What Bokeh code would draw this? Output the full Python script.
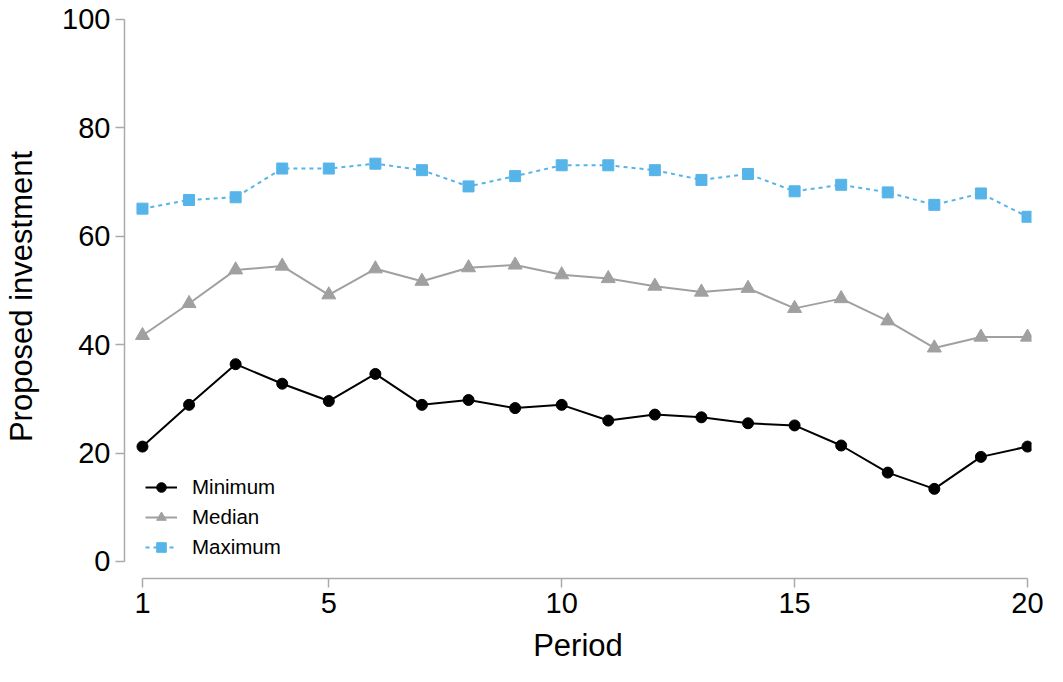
from bokeh.plotting import figure
from bokeh.models import Range1d, FixedTicker, Legend, LegendItem
from bokeh.embed import file_html
from bokeh.resources import INLINE

periods = list(range(1, 21))
minimum = [21.2, 28.9, 36.4, 32.8, 29.6, 34.6, 28.9, 29.8, 28.3, 28.9,
           26.0, 27.1, 26.6, 25.5, 25.1, 21.4, 16.4, 13.4, 19.3, 21.2]
median = [41.7, 47.6, 53.8, 54.5, 49.2, 54.0, 51.7, 54.2, 54.7, 52.9,
          52.2, 50.8, 49.7, 50.4, 46.7, 48.5, 44.4, 39.4, 41.4, 41.4]
maximum = [65.1, 66.7, 67.2, 72.5, 72.5, 73.4, 72.2, 69.2, 71.1, 73.1,
           73.1, 72.2, 70.4, 71.5, 68.3, 69.5, 68.1, 65.8, 67.9, 63.6]
x_ticks = [1, 5, 10, 15, 20]
y_ticks = [0, 20, 40, 60, 80, 100]

FONT = "Liberation Sans"
AXIS_GRAY = "#aaaaaa"
MED_GRAY = "#a0a0a0"
BLUE = "#56b4e9"

p = figure(width=1047, height=666,
           x_range=Range1d(0.614, 20.086), y_range=Range1d(-3.14, 100.92),
           output_backend="svg", toolbar_location=None,
           min_border_left=124, min_border_right=16,
           min_border_top=14, min_border_bottom=88)
p.outline_line_color = None
p.grid.visible = False
p.background_fill_color = "white"

for ax, ticks, bounds in ((p.xaxis[0], x_ticks, (1, 20)), (p.yaxis[0], y_ticks, (0, 100))):
    ax.ticker = FixedTicker(ticks=ticks)
    ax.bounds = bounds
    ax.axis_line_color = AXIS_GRAY
    ax.axis_line_width = 1.5
    ax.major_tick_line_color = AXIS_GRAY
    ax.major_tick_line_width = 1.5
    ax.major_tick_out = 9
    ax.major_tick_in = 0
    ax.minor_tick_line_color = None
    ax.major_label_text_font = FONT
    ax.major_label_text_font_size = "29px"
    ax.major_label_text_color = "black"
    ax.major_label_standoff = 5
    ax.axis_label_text_font = FONT
    ax.axis_label_text_font_size = "31px"
    ax.axis_label_text_font_style = "normal"
    ax.axis_label_text_color = "black"

p.xaxis.axis_label = "Period"
p.yaxis.axis_label = "Proposed investment"
p.xaxis.axis_label_standoff = 12
p.yaxis.axis_label_standoff = 20

r_min_l = p.line(periods, minimum, line_color="black", line_width=2)
r_min_m = p.scatter(periods, minimum, marker="circle", size=11, color="black")
r_med_l = p.line(periods, median, line_color=MED_GRAY, line_width=2)
r_med_m = p.scatter(periods, median, marker="triangle", size=14, color=MED_GRAY)
r_max_l = p.line(periods, maximum, line_color=BLUE, line_width=2, line_dash="4 4")
r_max_m = p.scatter(periods, maximum, marker="square", size=11, color=BLUE)

legend = Legend(items=[
    LegendItem(label="Minimum", renderers=[r_min_l, r_min_m]),
    LegendItem(label="Median", renderers=[r_med_l, r_med_m]),
    LegendItem(label="Maximum", renderers=[r_max_l, r_max_m]),
], location=(21, 19))
legend.border_line_color = None
legend.background_fill_alpha = 0
legend.padding = 0
legend.margin = 0
legend.spacing = 6
legend.glyph_width = 32
legend.glyph_height = 24
legend.label_height = 24
legend.label_standoff = 15
legend.label_text_font = FONT
legend.label_text_font_size = "20.5px"
legend.label_text_color = "black"
p.add_layout(legend, "center")

open("out.html", "w").write(file_html(p, INLINE))
